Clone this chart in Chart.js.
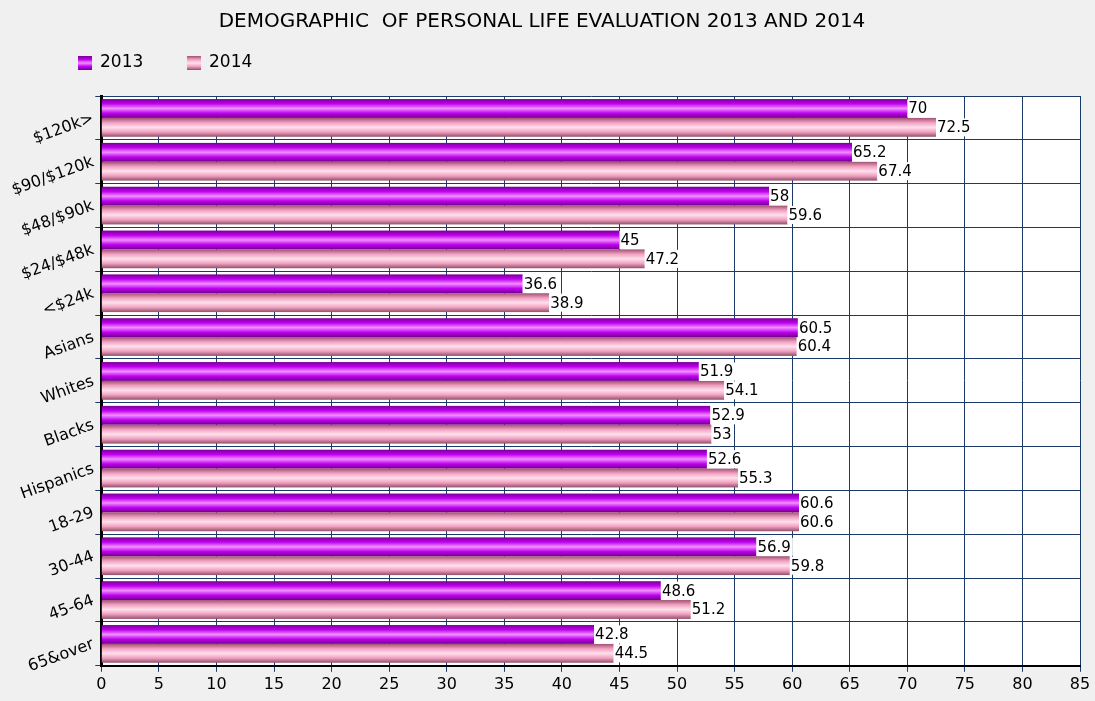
<!DOCTYPE html>
<html>
<head>
<meta charset="utf-8">
<script src="https://cdn.jsdelivr.net/npm/chart.js@4"></script>
<style>
  body { margin: 0; background: #f0f0f0; }
  #wrap { width: 1095px; height: 701px; position: relative; }
</style>
</head>
<body>
<div id="wrap"><canvas id="chart"></canvas></div>
<script>
const categories = ['$120k>', '$90/$120k', '$48/$90k', '$24/$48k', '<$24k', 'Asians', 'Whites',
    'Blacks', 'Hispanics', '18-29', '30-44', '45-64', '65&over'];
const values2013 = [70, 65.2, 58, 45, 36.6, 60.5, 51.9, 52.9, 52.6, 60.6, 56.9, 48.6, 42.8];
const values2014 = [72.5, 67.4, 59.6, 47.2, 38.9, 60.4, 54.1, 53, 55.3, 60.6, 59.8, 51.2, 44.5];
const xTicks = { min: 0, max: 85, step: 5 };

const FONT = '"DejaVu Sans", sans-serif';
const stops = {
    0: ['#7a0096', '#c000f0', '#f090ff', '#c000f0', '#70008a'],
    1: ['#a05070', '#f0a0c0', '#ffe0ec', '#f0a0c0', '#905068']
};

function gradient(ctx, y0, y1, colors) {
    const g = ctx.createLinearGradient(0, y0, 0, y1);
    colors.forEach((c, i) => g.addColorStop(i / (colors.length - 1), c));
    return g;
}

// paints the bars with a tube gradient and writes the value boxes
const barStyle = {
    id: 'barStyle',
    afterDatasetsDraw(chart) {
        const ctx = chart.ctx;
        ctx.save();
        chart.data.datasets.forEach((ds, di) => {
            chart.getDatasetMeta(di).data.forEach((el) => {
                const top = el.y - el.height / 2;
                ctx.fillStyle = gradient(ctx, top, top + el.height, stops[di]);
                ctx.fillRect(el.base, top, el.x - el.base, el.height);
            });
        });
        ctx.font = '15px ' + FONT;
        ctx.textBaseline = 'middle';
        chart.data.datasets.forEach((ds, di) => {
            chart.getDatasetMeta(di).data.forEach((el, i) => {
                const txt = String(ds.data[i]);
                const w = ctx.measureText(txt).width + 3;
                ctx.fillStyle = '#fff';
                ctx.fillRect(el.x, el.y - 9, w, 18);
                ctx.fillStyle = '#000';
                ctx.fillText(txt, el.x + 1, el.y + 1);
            });
        });
        ctx.restore();
    }
};

const legendBoxes = {
    id: 'legendBoxes',
    afterDraw(chart) {
        const ctx = chart.ctx;
        ctx.save();
        ctx.font = '17px ' + FONT;
        ctx.textBaseline = 'middle';
        [[78, '2013'], [187, '2014']].forEach(([x, label], di) => {
            ctx.fillStyle = gradient(ctx, 56, 70, stops[di]);
            ctx.fillRect(x, 56, 14, 14);
            ctx.fillStyle = '#000';
            ctx.fillText(label, x + 22, 63);
        });
        ctx.restore();
    }
};

new Chart(document.getElementById('chart'), {
    type: 'bar',
    data: {
        labels: categories,
        datasets: [
            { label: '2013', data: values2013, backgroundColor: 'rgba(0,0,0,0)' },
            { label: '2014', data: values2014, backgroundColor: 'rgba(0,0,0,0)' }
        ]
    },
    options: {
        indexAxis: 'y',
        responsive: true,
        maintainAspectRatio: false,
        animation: false,
        categoryPercentage: 0.86,
        barPercentage: 1,
        layout: { padding: { top: 10, right: 15, bottom: 4, left: 4 } },
        scales: {
            x: {
                min: xTicks.min, max: xTicks.max,
                ticks: { stepSize: xTicks.step, color: '#000', font: { family: FONT, size: 16 } },
                grid: { color: '#1a3a6a', lineWidth: 1, tickLength: 6 },
                border: { color: '#000', width: 2 }
            },
            y: {
                ticks: { color: '#000', font: { family: FONT, size: 16 }, minRotation: 20, maxRotation: 20, padding: 2 },
                grid: { color: '#1a3a6a', lineWidth: 1, tickLength: 6 },
                border: { color: '#000', width: 3 }
            }
        },
        plugins: {
            title: {
                display: true,
                text: 'DEMOGRAPHIC  OF PERSONAL LIFE EVALUATION 2013 AND 2014',
                color: '#000',
                font: { family: FONT, size: 20, weight: 'normal' },
                padding: { top: 0, bottom: 62 }
            },
            legend: { display: false },
            tooltip: { enabled: false }
        }
    },
    plugins: [
        { id: 'plotBg', beforeDraw(chart) {
            const a = chart.chartArea;
            chart.ctx.save();
            chart.ctx.fillStyle = '#fff';
            chart.ctx.fillRect(a.left, a.top, a.right - a.left, a.bottom - a.top);
            chart.ctx.restore();
        } },
        barStyle, legendBoxes
    ]
});
</script>
</body>
</html>
